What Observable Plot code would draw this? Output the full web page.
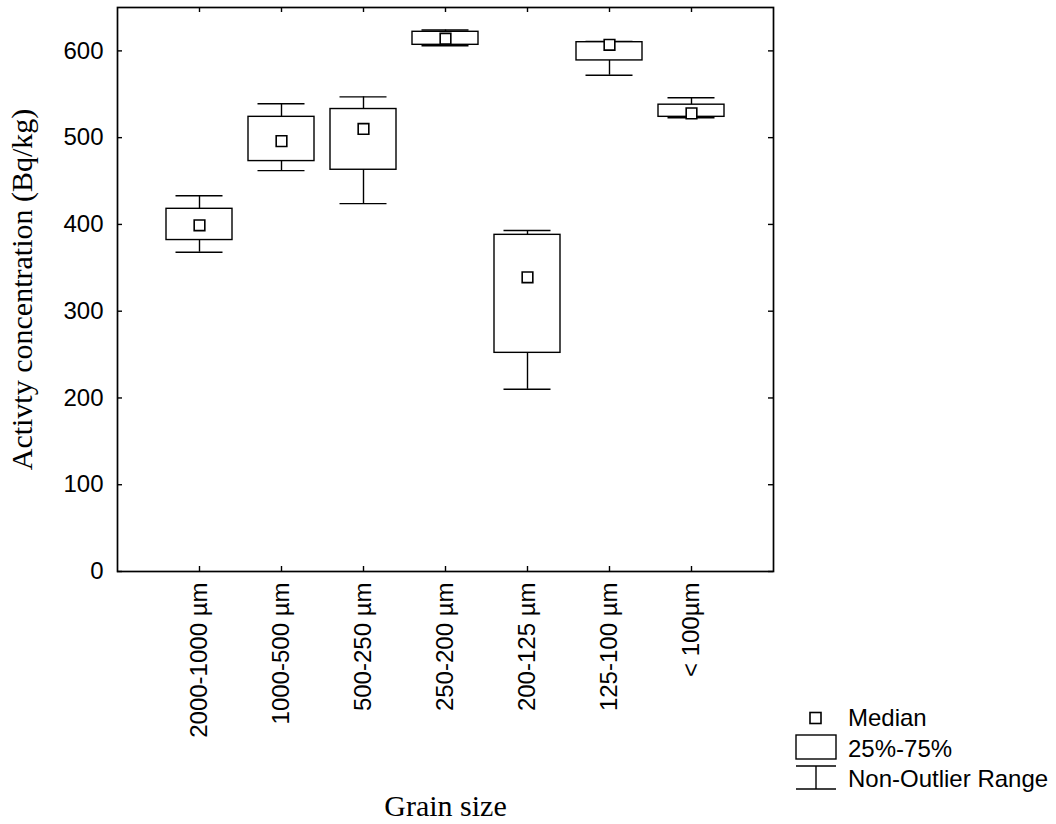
<!DOCTYPE html>
<html>
<head>
<meta charset="utf-8">
<script src="https://cdn.jsdelivr.net/npm/d3@7"></script>
<script src="https://cdn.jsdelivr.net/npm/@observablehq/plot@0.6"></script>
<style>
  body { margin: 0; background: #fff; }
  #chart { position: relative; width: 1056px; height: 824px; }
  #legend { position: absolute; left: 786px; top: 700px; }
</style>
</head>
<body>
<div id="chart"></div>
<script>
// Grain-size fractions and the box-plot statistics of activity concentration (Bq/kg)
const grainSizes = ["2000-1000 µm", "1000-500 µm", "500-250 µm", "250-200 µm", "200-125 µm", "125-100 µm", "< 100µm"];
const minValues    = [368, 462, 424, 606, 210, 572, 523];
const q1Values     = [382, 473, 463, 607, 252, 589, 524];
const medianValues = [399, 496, 510, 614, 339, 607, 528];
const q3Values     = [418, 524, 533, 622, 388, 610, 538];
const maxValues    = [433, 539, 547, 624, 393, 611, 546];
const yTicks = [0, 100, 200, 300, 400, 500, 600];

const rows = grainSizes.map((grain, i) => ({
  grain,
  min: minValues[i],
  q1: q1Values[i],
  median: medianValues[i],
  q3: q3Values[i],
  max: maxValues[i]
}));

const W = 1056, H = 824;
const mL = 117, mR = 283, mT = 7, mB = 253;
const innerW = W - mL - mR, innerH = H - mT - mB;
const sans = "'Liberation Sans', Arial, sans-serif";
const serif = "'Liberation Serif', 'Times New Roman', serif";
const tickLen = 5;
const lw = 1.4;

const chart = Plot.plot({
  width: W,
  height: H,
  marginLeft: mL,
  marginRight: mR,
  marginTop: mT,
  marginBottom: mB,
  style: { fontFamily: sans, fontSize: "24px", color: "#000", background: "#fff" },
  x: { type: "band", domain: grainSizes, paddingInner: 0.195, paddingOuter: 0.5975 },
  y: { domain: [0, 650] },
  marks: [
    // tick labels
    Plot.axisY(yTicks, { tickSize: 0, tickPadding: 14, label: null, fontSize: 24 }),
    Plot.axisX({ tickSize: 0, tickPadding: 11, tickRotate: -90, label: null, fontSize: 24 }),
    // axis titles
    Plot.axisY({ ticks: [], tickSize: 0, label: "Activty concentration (Bq/kg)", labelAnchor: "center",
                 labelArrow: "none", labelOffset: 107, fontFamily: serif, fontSize: 30 }),
    Plot.axisX({ ticks: [], tickSize: 0, label: "Grain size", labelAnchor: "center",
                 labelArrow: "none", labelOffset: 244, fontFamily: serif, fontSize: 30 }),
    // whiskers
    Plot.ruleX(rows, { x: "grain", y1: "q3", y2: "max", stroke: "#000", strokeWidth: lw }),
    Plot.ruleX(rows, { x: "grain", y1: "q1", y2: "min", stroke: "#000", strokeWidth: lw }),
    Plot.tickY(rows, { x: "grain", y: "max", insetLeft: 9.5, insetRight: 9.5, stroke: "#000", strokeWidth: lw }),
    Plot.tickY(rows, { x: "grain", y: "min", insetLeft: 9.5, insetRight: 9.5, stroke: "#000", strokeWidth: lw }),
    // interquartile boxes
    Plot.barY(rows, { x: "grain", y1: "q1", y2: "q3", fill: "#fff", stroke: "#000", strokeWidth: lw }),
    // medians
    Plot.dot(rows, { x: "grain", y: "median", symbol: "square", r: 6, fill: "#fff", stroke: "#000", strokeWidth: 1.6 }),
    // inward tick marks on all four sides
    Plot.tickY(yTicks, { y: d => d, insetRight: innerW - tickLen, stroke: "#000", strokeWidth: lw }),
    Plot.tickY(yTicks, { y: d => d, insetLeft: innerW - tickLen, stroke: "#000", strokeWidth: lw }),
    Plot.tickX(grainSizes, { x: d => d, insetTop: innerH - tickLen, stroke: "#000", strokeWidth: lw }),
    Plot.tickX(grainSizes, { x: d => d, insetBottom: innerH - tickLen, stroke: "#000", strokeWidth: lw }),
    Plot.frame({ stroke: "#000", strokeWidth: 1.7 })
  ]
});

const host = document.getElementById("chart");
host.appendChild(chart);

// Legend: median marker, interquartile box and whisker range
const legend = d3.create("svg")
  .attr("id", "legend")
  .attr("width", 270)
  .attr("height", 110)
  .style("font-family", sans)
  .style("font-size", "24px");

legend.append("rect").attr("x", 24).attr("y", 12.5).attr("width", 11).attr("height", 11)
  .attr("fill", "#fff").attr("stroke", "#000").attr("stroke-width", 1.6);
legend.append("rect").attr("x", 10).attr("y", 35).attr("width", 40).attr("height", 24)
  .attr("fill", "#fff").attr("stroke", "#000").attr("stroke-width", lw);
const whisker = legend.append("g").attr("stroke", "#000").attr("stroke-width", lw);
whisker.append("line").attr("x1", 10).attr("x2", 50).attr("y1", 66).attr("y2", 66);
whisker.append("line").attr("x1", 30).attr("x2", 30).attr("y1", 66).attr("y2", 89);
whisker.append("line").attr("x1", 10).attr("x2", 50).attr("y1", 89).attr("y2", 89);

const legendLabels = ["Median", "25%-75%", "Non-Outlier Range"];
const legendBaselines = [25.5, 56.5, 86.5];
legend.selectAll("text.lbl").data(legendLabels).join("text")
  .attr("class", "lbl")
  .attr("x", 62)
  .attr("y", (d, i) => legendBaselines[i])
  .attr("fill", "#000")
  .text(d => d);

host.appendChild(legend.node());
</script>
</body>
</html>
